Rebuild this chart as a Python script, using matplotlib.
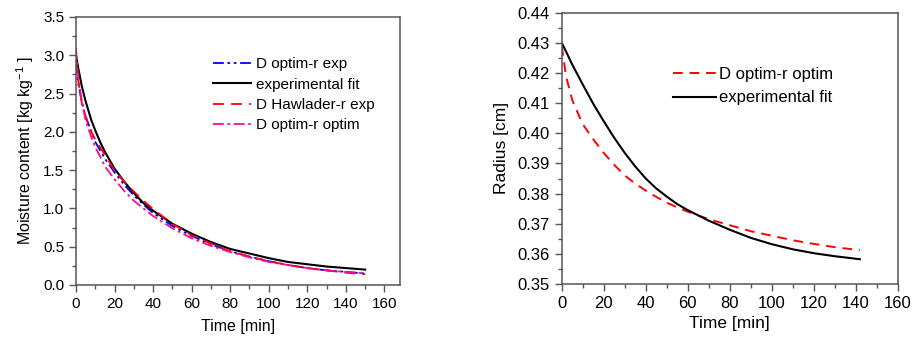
import matplotlib.pyplot as plt
from matplotlib.ticker import MultipleLocator

plt.rcParams['font.family'] = ['Liberation Sans', 'DejaVu Sans']
plt.rcParams['mathtext.fontset'] = 'custom'
plt.rcParams['mathtext.rm'] = 'Liberation Sans'

# left panel: moisture content vs time
t_left = [0, 1, 3, 5, 8, 10, 12.5, 15, 20, 25, 30, 35, 40, 50, 60, 70, 80, 90, 100, 110, 120, 130, 140, 150]
exp_fit = [3.0, 2.86, 2.6, 2.4, 2.15, 2.02, 1.87, 1.74, 1.52, 1.35, 1.2, 1.07, 0.97, 0.8, 0.67, 0.56,
           0.47, 0.41, 0.35, 0.3, 0.27, 0.24, 0.22, 0.2]
d_optim_exp = [2.9, 2.65, 2.4, 2.2, 2.0, 1.87, 1.76, 1.65, 1.47, 1.31, 1.17, 1.05, 0.94, 0.77, 0.64, 0.53,
               0.44, 0.37, 0.31, 0.26, 0.22, 0.19, 0.17, 0.15]
d_hawlader = [2.95, 2.7, 2.38, 2.2, 2.0, 1.9, 1.8, 1.7, 1.5, 1.35, 1.22, 1.1, 0.99, 0.8, 0.65, 0.54,
              0.44, 0.37, 0.31, 0.26, 0.22, 0.19, 0.16, 0.14]
d_optim_optim = [3.1, 2.75, 2.4, 2.15, 1.93, 1.8, 1.68, 1.55, 1.38, 1.23, 1.1, 1.0, 0.9, 0.74, 0.61, 0.51,
                 0.43, 0.36, 0.3, 0.26, 0.22, 0.19, 0.17, 0.15]

# right panel: radius vs time
t_right = [0, 2, 5, 10, 15, 20, 25, 30, 35, 40, 45, 50, 55, 60, 70, 80, 90, 100, 110, 120, 130, 142]
r_optim = [0.429, 0.419, 0.411, 0.403, 0.398, 0.3935, 0.3895, 0.386, 0.3833, 0.381, 0.3789, 0.377,
           0.3754, 0.374, 0.3715, 0.3695, 0.3675, 0.366, 0.3645, 0.3633, 0.3622, 0.3612]
r_fit = [0.43, 0.4272, 0.4228, 0.4162, 0.4098, 0.404, 0.3985, 0.3935, 0.389, 0.385, 0.3817, 0.379,
         0.3765, 0.3745, 0.371, 0.368, 0.3653, 0.3632, 0.3615, 0.3602, 0.3592, 0.3582]

fig = plt.figure(figsize=(9.15, 3.4), dpi=100)
ax1 = fig.add_axes([0.083, 0.162, 0.354, 0.788])
ax2 = fig.add_axes([0.614, 0.165, 0.367, 0.797])

ax1.plot(t_left, d_optim_exp, color='#0000ff', lw=1.3, dashes=(6, 2, 1.5, 2, 1.5, 2), label='D optim-r exp')
ax1.plot(t_left, exp_fit, color='black', lw=1.5, label='experimental fit')
ax1.plot(t_left, d_hawlader, color='#ff0000', lw=1.3, dashes=(6, 4), label='D Hawlader-r exp')
ax1.plot(t_left, d_optim_optim, color='#ff0a8c', lw=1.3, dashes=(6, 2, 1.5, 2), label='D optim-r optim')

ax2.plot(t_right, r_optim, color='#ff0000', lw=1.4, dashes=(5, 3.5), label='D optim-r optim')
ax2.plot(t_right, r_fit, color='black', lw=1.5, label='experimental fit')

ax1.set_xlim(0, 168)
ax1.set_ylim(0, 3.5)
ax1.xaxis.set_major_locator(MultipleLocator(20))
ax1.xaxis.set_minor_locator(MultipleLocator(10))
ax1.yaxis.set_major_locator(MultipleLocator(0.5))
ax1.yaxis.set_minor_locator(MultipleLocator(0.25))
ax1.yaxis.set_major_formatter(plt.FormatStrFormatter('%.1f'))
ax1.set_xlabel('Time [min]', fontsize=11.5, labelpad=6)
ax1.set_ylabel('Moisture content [kg kg$^{-1}$ ]', fontsize=11.5, labelpad=5)

ax2.set_xlim(0, 160)
ax2.set_ylim(0.35, 0.44)
ax2.xaxis.set_major_locator(MultipleLocator(20))
ax2.xaxis.set_minor_locator(MultipleLocator(10))
ax2.yaxis.set_major_locator(MultipleLocator(0.01))
ax2.yaxis.set_minor_locator(MultipleLocator(0.005))
ax2.yaxis.set_major_formatter(plt.FormatStrFormatter('%.2f'))
ax2.set_xlabel('Time [min]', fontsize=12.5)
ax2.set_ylabel('Radius [cm]', fontsize=12.5, labelpad=6)

for ax, fs in [(ax1, 11), (ax2, 12)]:
    ax.tick_params(which='major', direction='out', length=5, width=1, color='#555555', labelsize=fs,
                   top=False, right=False)
    ax.tick_params(which='minor', direction='out', length=3, width=1, color='#555555', top=False, right=False)
    for s in ax.spines.values():
        s.set_color('#555555')
        s.set_linewidth(1.1)

ax1.legend(loc='upper left', bbox_to_anchor=(0.423, 0.85), frameon=False, fontsize=11,
           handlelength=2.5, handletextpad=0.3, labelspacing=0.42, borderpad=0, borderaxespad=0)
ax2.legend(loc='upper left', bbox_to_anchor=(0.33, 0.80), frameon=False, fontsize=12,
           handlelength=2.6, handletextpad=0.2, labelspacing=0.5, borderpad=0, borderaxespad=0)

fig.savefig('out.png', dpi=100)
